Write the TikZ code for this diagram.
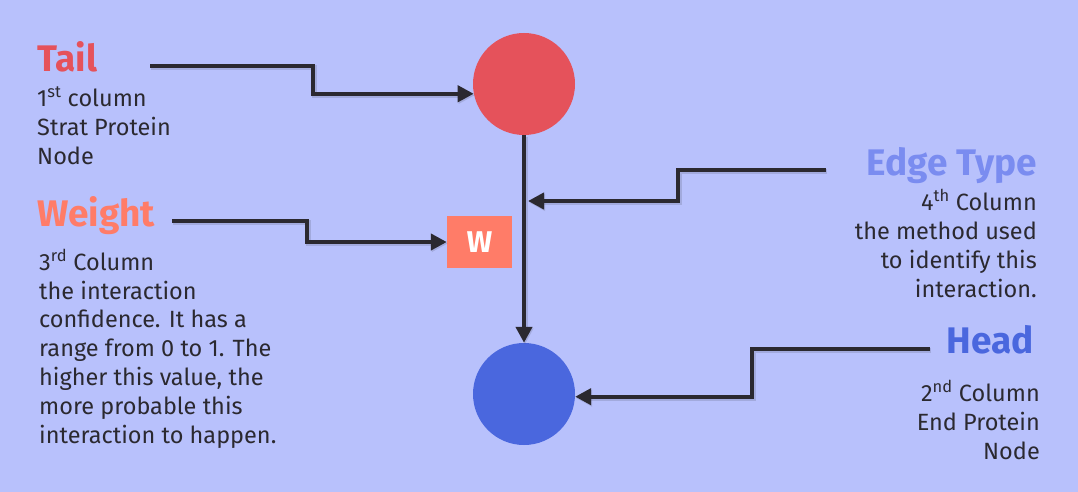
\documentclass[tikz,border=0pt]{standalone}
\usepackage{fontspec}
\setmainfont{Fira Sans}
\usetikzlibrary{arrows.meta}
\definecolor{bgblue}{RGB}{184,193,252}
\definecolor{tailred}{RGB}{229,82,91}
\definecolor{headblue}{RGB}{74,103,222}
\definecolor{weightorange}{RGB}{255,124,104}
\definecolor{edgeblue}{RGB}{122,140,240}
\definecolor{linedark}{RGB}{43,41,48}
\tikzset{
  protein/.style={circle, minimum size=102pt, inner sep=0pt},
  title/.style={font=\fontsize{37}{40}\selectfont\bfseries, inner sep=0pt},
  body/.style={font=\fontsize{23.5}{28.8}\selectfont, text=linedark, inner sep=0pt},
  link/.style={draw=linedark, line width=4.2pt, -{Triangle[length=16pt,width=16pt]},
    preaction={draw=linedark, opacity=0.15, line width=5pt,
      transform canvas={xshift=1pt, yshift=-1.5pt}}},
}
\begin{document}
\begin{tikzpicture}[x=1pt, y=-1pt]
  \fill[bgblue] (0,0) rectangle (1078,492);
  \useasboundingbox (0,0) rectangle (1078,492);
  % protein nodes and weight box
  \node[protein, fill=tailred] (tail) at (524,84) {};
  \node[protein, fill=headblue] (head) at (524,394) {};
  \node[fill=weightorange, minimum width=65pt, minimum height=52pt, inner sep=0pt,
        text=white, font=\fontsize{30}{30}\selectfont\bfseries] (wbox) at (479.5,242) {W};
  % labels
  \node[title, text=tailred, anchor=base west] (tailtitle) at (37,72) {Tail};
  \node[body, align=left, anchor=base west] (tailtext) at (37,164)
    {1\textsuperscript{st} column\\Strat Protein\\Node};
  \node[title, text=weightorange, anchor=base west] (weighttitle) at (37,226) {Weight};
  \node[body, align=left, anchor=base west] (weighttext) at (39,443)
    {3\textsuperscript{rd} Column\\the interaction\\confidence. It has a\\range from 0 to 1. The\\higher this value, the\\more probable this\\interaction to happen.};
  \node[title, text=edgeblue, anchor=base east] (edgetitle) at (1037,175) {Edge Type};
  \node[body, align=right, anchor=base east] (edgetext) at (1037,297)
    {4\textsuperscript{th} Column\\the method used\\to identify this\\interaction.};
  \node[title, text=headblue, anchor=base east] (headtitle) at (1034,353) {Head};
  \node[body, align=right, anchor=base east] (headtext) at (1040,459)
    {2\textsuperscript{nd} Column\\End Protein\\Node};
  % connectors
  \coordinate (tailfrom) at (150,66);
  \coordinate (weightfrom) at (172,221);
  \coordinate (edgefrom) at (826,170);
  \coordinate (edgeto) at (528,201);
  \coordinate (headfrom) at (930,349);
  \draw[link] (tail) -- (head);
  \draw[link] (tailfrom) -- (313,66) |- (tail.191);
  \draw[link] (weightfrom) -- (307,221) |- (wbox.west);
  \draw[link] (edgefrom) -- (678,170) |- (edgeto);
  \draw[link] (headfrom) -- (752,349) |- (head.357);
\end{tikzpicture}
\end{document}
